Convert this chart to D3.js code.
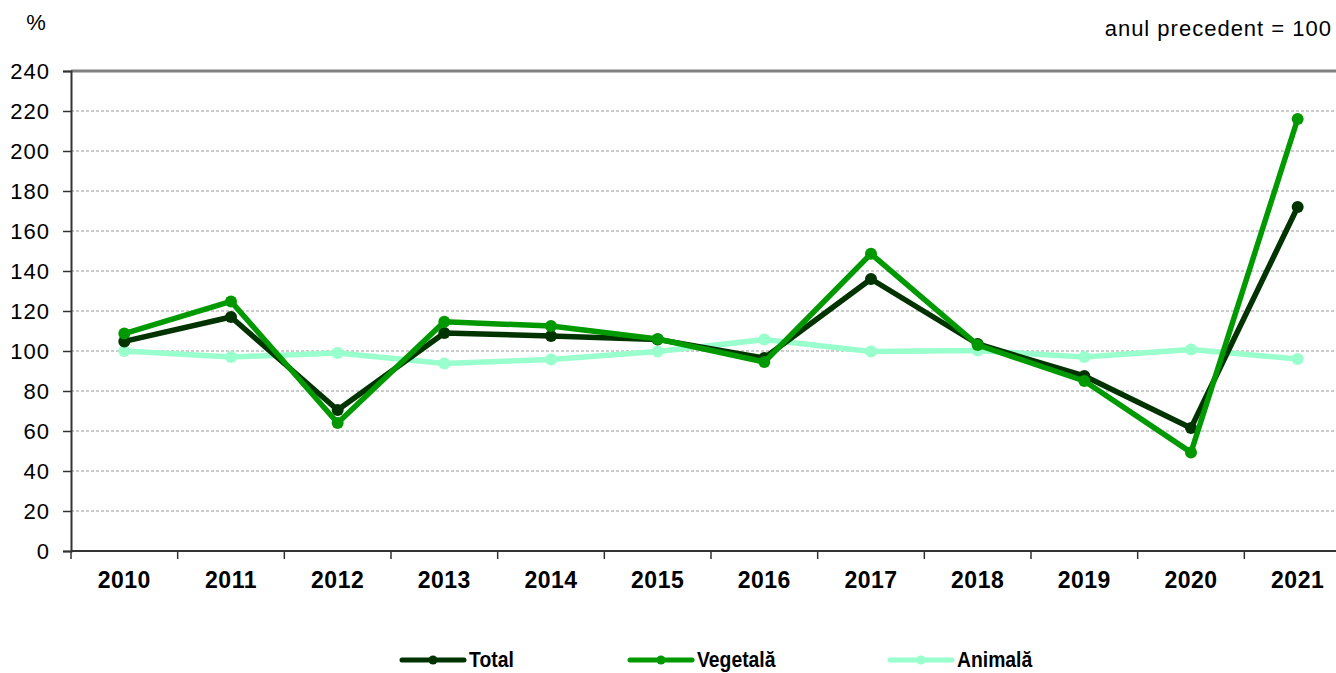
<!DOCTYPE html>
<html>
<head>
<meta charset="utf-8">
<script src="https://cdn.jsdelivr.net/npm/d3@7"></script>
<style>
  body { margin: 0; background: #fff; }
  svg { display: block; font-family: "Liberation Sans", Arial, sans-serif; }
</style>
</head>
<body>
<svg id="chart" width="1336" height="673"></svg>
<script>
// data
let years = ['2010','2011','2012','2013','2014','2015','2016','2017','2018','2019','2020','2021']
let total = [104.8, 117, 70.5, 109, 107.5, 105.8, 96.5, 136, 103.5, 87.5, 61.5, 172]
let vegetala = [108.7, 124.8, 64, 114.6, 112.5, 106, 94.5, 148.6, 103, 85, 49.3, 216]
let animala = [100, 97, 99, 93.7, 95.8, 99.8, 105.7, 99.8, 100.2, 97, 100.8, 96]
let yTicks = [0, 20, 40, 60, 80, 100, 120, 140, 160, 180, 200, 220, 240]

let series = [
  {name: 'Total', values: total, color: '#003300'},
  {name: 'Vegetală', values: vegetala, color: '#009900'},
  {name: 'Animală', values: animala, color: '#99ffcc'}
]

let svg = d3.select('#chart')
let plotLeft = 71, plotTop = 71, plotBottom = 551, plotRight = 1351

let x = d3.scaleBand().domain(years).range([plotLeft, plotRight])
let y = d3.scaleLinear().domain([0, 240]).range([plotBottom, plotTop])

// grid lines (dashed)
svg.append('g')
  .selectAll('line')
  .data(yTicks.filter(function(d){ return d > 0 && d < 240 }))
  .enter().append('line')
  .attr('x1', plotLeft).attr('x2', plotRight)
  .attr('y1', function(d){ return y(d) }).attr('y2', function(d){ return y(d) })
  .attr('stroke', '#999').attr('stroke-width', 1).attr('stroke-dasharray', '3,2')

// top border
svg.append('line')
  .attr('x1', plotLeft).attr('x2', plotRight)
  .attr('y1', y(240)).attr('y2', y(240))
  .attr('stroke', '#808080').attr('stroke-width', 3)

// y axis
let yAxis = d3.axisLeft(y).tickValues(yTicks).tickSize(8).tickPadding(13)
let gy = svg.append('g').attr('transform', 'translate(' + plotLeft + ',0)').call(yAxis)
gy.select('.domain').attr('stroke', '#333').attr('stroke-width', 2)
gy.selectAll('.tick line').attr('stroke', '#333').attr('stroke-width', 1.5)
gy.selectAll('text').attr('font-size', 22).attr('fill', '#000')
  .attr('letter-spacing', 1)
  .attr('font-family', '"Liberation Sans", Arial, sans-serif')

// x axis: ticks at band boundaries
let gx = svg.append('g').attr('transform', 'translate(0,' + plotBottom + ')')
gx.append('line').attr('x1', plotLeft).attr('x2', plotRight).attr('stroke', '#333').attr('stroke-width', 2)
gx.selectAll('.xt')
  .data(years)
  .enter().append('line')
  .attr('class', 'xt')
  .attr('x1', function(d){ return x(d) }).attr('x2', function(d){ return x(d) })
  .attr('y1', 0).attr('y2', 8)
  .attr('stroke', '#333').attr('stroke-width', 1.5)
gx.selectAll('.xl')
  .data(years)
  .enter().append('text')
  .attr('class', 'xl')
  .attr('x', function(d){ return x(d) + x.bandwidth()/2 })
  .attr('y', 37)
  .attr('text-anchor', 'middle')
  .attr('font-size', 23).attr('font-weight', 'bold').attr('letter-spacing', 0.5)
  .text(function(d){ return d })

// labels
svg.append('text').attr('x', 36).attr('y', 30).attr('text-anchor', 'middle')
  .attr('font-size', 22).text('%')
svg.append('text').attr('x', 1332).attr('y', 36).attr('text-anchor', 'end')
  .attr('font-size', 22).attr('letter-spacing', 1).text('anul precedent = 100')

// lines
let line = d3.line()
  .x(function(d, i){ return x(years[i]) + x.bandwidth()/2 })
  .y(function(d){ return y(d) })

let order = [series[2], series[0], series[1]]
order.forEach(function(s){
  svg.append('path')
    .attr('d', line(s.values))
    .attr('fill', 'none')
    .attr('stroke', s.color)
    .attr('stroke-width', 5.5)
    .attr('stroke-linejoin', 'round')
  svg.append('g').selectAll('circle')
    .data(s.values)
    .enter().append('circle')
    .attr('cx', function(d, i){ return x(years[i]) + x.bandwidth()/2 })
    .attr('cy', function(d){ return y(d) })
    .attr('r', 6)
    .attr('fill', s.color)
})

// legend
let legendX = [402, 630, 890]
series.forEach(function(s, i){
  let g = svg.append('g').attr('transform', 'translate(' + legendX[i] + ',660)')
  g.append('line').attr('x1', 0).attr('x2', 62).attr('y1', 0).attr('y2', 0)
    .attr('stroke', s.color).attr('stroke-width', 5).attr('stroke-linecap', 'round')
  g.append('circle').attr('cx', 31).attr('cy', 0).attr('r', 4.5).attr('fill', s.color)
  g.append('text')
    .attr('transform', 'translate(67,7) scale(0.86,1)')
    .attr('font-size', 22.5).attr('font-weight', 'bold')
    .text(s.name)
})
</script>
</body>
</html>
